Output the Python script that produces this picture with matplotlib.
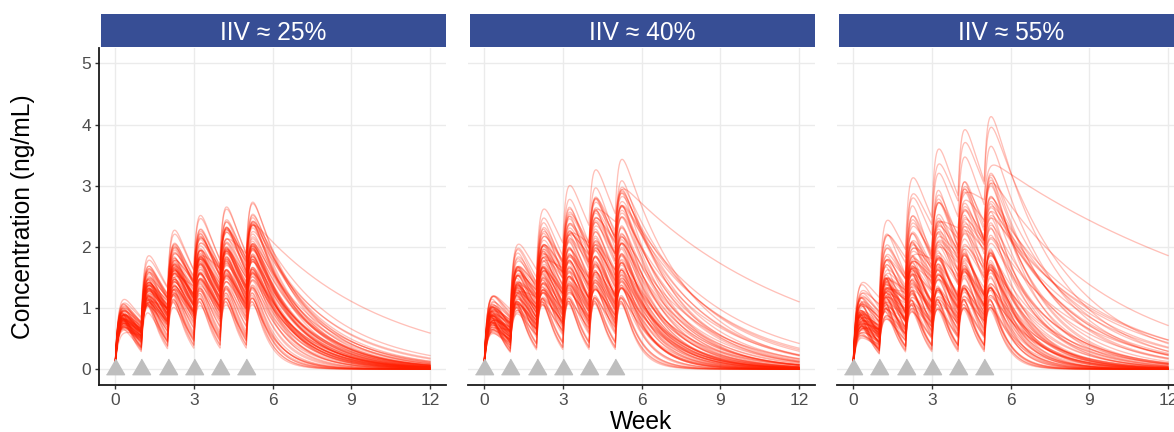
"""
Simulated concentration-time profiles, weekly dosing, three IIV scenarios
"""

import numpy as np
import matplotlib
matplotlib.use('Agg')
import matplotlib.pyplot as plt

plt.rcParams.update({
    'font.family': ['Liberation Sans', 'DejaVu Sans'],
    'figure.facecolor': 'white',
    'axes.facecolor': 'white',
})

STRIP = '#374E95'
GRID = '#EBEBEB'
TICKTXT = '#4D4D4D'
TRI = '#BEBEBE'
LINE = '#FF1E00'

# ── Data ──────────────────────────────────────────────────────────────────────
panel_titles = ['IIV ≈ 25%', 'IIV ≈ 40%', 'IIV ≈ 55%']
dose_weeks = [0, 1, 2, 3, 4, 5]
ka_per_week = 8.0
x_ticks = [0, 3, 6, 9, 12]
y_ticks = [0, 1, 2, 3, 4, 5]

# per-subject elimination rate (1/week) and amplitude (ng/mL)
p1_ke = [0.62, 0.55, 0.71, 0.48, 0.66, 0.59, 0.77, 0.52, 0.64, 0.45,
         0.69, 0.57, 0.81, 0.50, 0.61, 0.74, 0.42, 0.58, 0.67, 0.53,
         0.86, 0.60, 0.47, 0.72, 0.56, 0.63, 0.38, 0.68, 0.54, 0.79,
         0.51, 0.65, 0.59, 0.44, 0.73, 0.62, 0.49, 0.70, 0.57, 0.83,
         0.61, 0.40, 0.66, 0.55, 0.75, 0.58, 0.46, 0.64, 0.52, 0.90,
         0.60, 0.36, 0.68, 0.56, 0.63, 0.21, 0.71, 0.50, 0.58, 0.65,
         1.05, 1.45, 1.20, 1.60, 1.10, 0.58, 1.80, 0.55, 1.00, 1.35,
         0.92, 1.50, 1.15, 0.53, 1.70, 0.98, 0.57, 1.30, 0.84, 1.25]
p1_amp = [1.10, 1.25, 0.98, 1.05, 1.32, 0.92, 1.18, 1.40, 1.02, 0.95,
          1.22, 1.08, 1.00, 0.88, 1.15, 1.28, 0.90, 1.35, 1.00, 1.12,
          1.30, 0.85, 1.20, 1.05, 1.50, 0.96, 0.92, 1.14, 1.26, 1.38,
          1.03, 0.94, 1.17, 1.10, 1.24, 1.42, 0.99, 1.08, 0.87, 1.55,
          1.19, 1.00, 1.29, 1.06, 0.97, 1.33, 1.13, 1.21, 0.93, 1.48,
          1.07, 0.95, 1.16, 1.36, 1.01, 0.68, 1.11, 1.27, 0.89, 1.23,
          1.30, 1.50, 1.25, 1.55, 1.05, 1.12, 1.75, 1.02, 1.45, 1.40,
          1.22, 1.65, 1.35, 1.16, 1.80, 1.20, 0.98, 1.55, 1.18, 1.40]

p2_ke = [0.60, 0.45, 0.78, 0.52, 0.95, 0.38, 0.66, 0.55, 0.85, 0.48,
         0.70, 0.33, 0.62, 1.05, 0.50, 0.74, 0.42, 0.58, 0.90, 0.36,
         0.64, 0.53, 0.80, 0.46, 0.68, 0.15, 0.57, 0.72, 0.41, 0.98,
         0.61, 0.49, 0.83, 0.35, 0.66, 0.54, 0.76, 0.44, 0.63, 1.10,
         0.51, 0.69, 0.39, 0.59, 0.88, 0.47, 0.65, 0.31, 0.73, 0.56,
         0.93, 0.43, 0.62, 0.50, 0.79, 0.37, 0.67, 0.58, 0.28, 0.71,
         1.20, 1.55, 1.00, 1.75, 1.30, 0.52, 1.45, 0.61, 0.70, 1.15,
         1.90, 0.66, 0.94, 1.40, 0.75, 1.08, 1.65, 0.82, 0.45, 0.68]
p2_amp = [1.10, 0.95, 1.35, 1.20, 1.55, 0.88, 1.02, 1.45, 1.28, 0.80,
          1.15, 1.05, 1.60, 1.40, 1.25, 0.92, 1.12, 0.84, 1.70, 0.98,
          1.30, 1.08, 0.86, 1.38, 1.22, 0.74, 1.00, 1.48, 1.48, 1.18,
          0.78, 1.52, 1.06, 1.15, 0.94, 1.32, 1.24, 1.00, 1.42, 1.62,
          0.89, 1.36, 1.20, 1.14, 0.96, 1.27, 0.83, 0.95, 1.09, 1.58,
          1.33, 1.30, 0.97, 1.03, 1.45, 1.10, 1.19, 0.87, 0.90, 1.26,
          1.45, 1.60, 1.30, 1.70, 1.60, 1.12, 1.50, 1.36, 0.95, 1.25,
          1.85, 1.40, 1.15, 1.35, 1.02, 1.50, 1.55, 1.33, 1.20, 1.10]

p3_ke = [0.58, 0.40, 0.85, 0.48, 1.10, 0.33, 0.66, 0.52, 0.95, 0.44,
         0.72, 0.27, 0.61, 1.25, 0.47, 0.80, 0.37, 0.55, 1.00, 0.30,
         0.63, 0.50, 0.88, 0.42, 0.70, 0.09, 0.56, 0.76, 0.35, 1.15,
         0.60, 0.45, 0.92, 0.25, 0.68, 0.53, 0.82, 0.39, 0.64, 1.30,
         0.49, 0.74, 0.34, 0.57, 0.98, 0.43, 0.66, 0.22, 0.78, 0.54,
         1.05, 0.38, 0.62, 0.46, 0.86, 0.31, 0.69, 0.59, 0.26, 0.73,
         1.35, 1.70, 1.12, 1.55, 0.78, 1.40, 1.90, 0.70, 0.95, 1.60,
         1.20, 0.45, 2.00, 0.58, 1.02, 1.45, 0.36, 0.90, 1.75, 0.75]
p3_amp = [1.05, 1.75, 1.40, 0.90, 1.70, 0.80, 1.20, 1.55, 1.30, 0.75,
          0.95, 0.85, 1.85, 1.50, 1.35, 1.00, 1.10, 0.70, 1.80, 0.88,
          1.45, 1.15, 0.82, 1.60, 1.25, 0.72, 0.92, 1.65, 1.02, 1.38,
          0.68, 1.48, 1.12, 0.78, 1.05, 1.42, 1.28, 0.98, 1.58, 1.90,
          0.84, 1.32, 1.50, 1.22, 0.90, 1.38, 0.76, 0.90, 1.18, 1.62,
          1.45, 1.15, 0.94, 1.00, 1.52, 1.00, 1.26, 0.80, 0.86, 1.34,
          1.55, 1.70, 1.35, 1.45, 1.25, 1.70, 1.90, 0.88, 1.45, 1.60,
          1.20, 0.95, 1.85, 1.40, 1.62, 1.30, 1.25, 1.00, 1.50, 1.15]

panels = [(p1_ke, p1_amp), (p2_ke, p2_amp), (p3_ke, p3_amp)]

t = np.linspace(0, 12, 1201)


def profile(ke, amp):
    c = np.zeros_like(t)
    for d in dose_weeks:
        dt = t - d
        m = dt > 0
        c[m] += amp * (np.exp(-ke * dt[m]) - np.exp(-ka_per_week * dt[m]))
    return c


# ── Figure ────────────────────────────────────────────────────────────────────
W, H = 1174, 432
fig = plt.figure(figsize=(W / 100, H / 100), dpi=100)

lefts = [99.3, 468.3, 837.3]
pw = 346.4
ax_bot, ax_top = 384.5, 48.2
strip_top, strip_bot = 14.0, 47.0

tri = [(-1, -0.577), (1, -0.577), (0, 1.155)]

for i, (ke_list, amp_list) in enumerate(panels):
    x0 = lefts[i]
    ax = fig.add_axes([x0 / W, 1 - ax_bot / H, pw / W, (ax_bot - ax_top) / H])
    for ke, amp in zip(ke_list, amp_list):
        ax.plot(t, profile(ke, amp), color=LINE, alpha=0.28, lw=0.95, zorder=3)
    ax.plot(dose_weeks, [0] * len(dose_weeks), linestyle='none', marker=tri,
            markersize=15, color=TRI, zorder=4)

    ax.set_xlim(-0.6, 12.6)
    ax.set_ylim(-0.25, 5.25)
    ax.set_xticks(x_ticks)
    ax.set_yticks(y_ticks)
    ax.grid(True, color=GRID, lw=1.0, zorder=0)
    ax.set_axisbelow(True)
    for s in ['top', 'right']:
        ax.spines[s].set_visible(False)
    ax.spines['bottom'].set_color('#1A1A1A')
    ax.spines['bottom'].set_linewidth(1.3)
    ax.tick_params(axis='x', length=3, width=1, color='#333333',
                   labelsize=12.5, labelcolor=TICKTXT, pad=3)
    if i == 0:
        ax.spines['left'].set_color('#1A1A1A')
        ax.spines['left'].set_linewidth(1.3)
        ax.tick_params(axis='y', length=3, width=1, color='#333333',
                       labelsize=12.5, labelcolor=TICKTXT, pad=3)
    else:
        ax.spines['left'].set_visible(False)
        ax.tick_params(axis='y', length=0, labelleft=False)

    # strip
    sx = fig.add_axes([(x0 + 1.5) / W, 1 - strip_bot / H, (pw - 1.5) / W,
                       (strip_bot - strip_top) / H])
    sx.set_facecolor(STRIP)
    sx.set_xticks([])
    sx.set_yticks([])
    for s in sx.spines.values():
        s.set_visible(False)
    sx.text(0.5, (strip_bot - 40.0) / (strip_bot - strip_top), panel_titles[i],
            transform=sx.transAxes, ha='center', va='baseline',
            color='white', fontsize=17.7)

fig.text(23 / W, 1 - 216.5 / H, 'Concentration (ng/mL)', rotation=90,
         ha='center', va='center', fontsize=17.7, color='black')
fig.text(641 / W, 1 - 429 / H, 'Week', ha='center', va='baseline',
         fontsize=17.7, color='black')

fig.savefig('out.png', dpi=100, facecolor='white')
plt.close(fig)
